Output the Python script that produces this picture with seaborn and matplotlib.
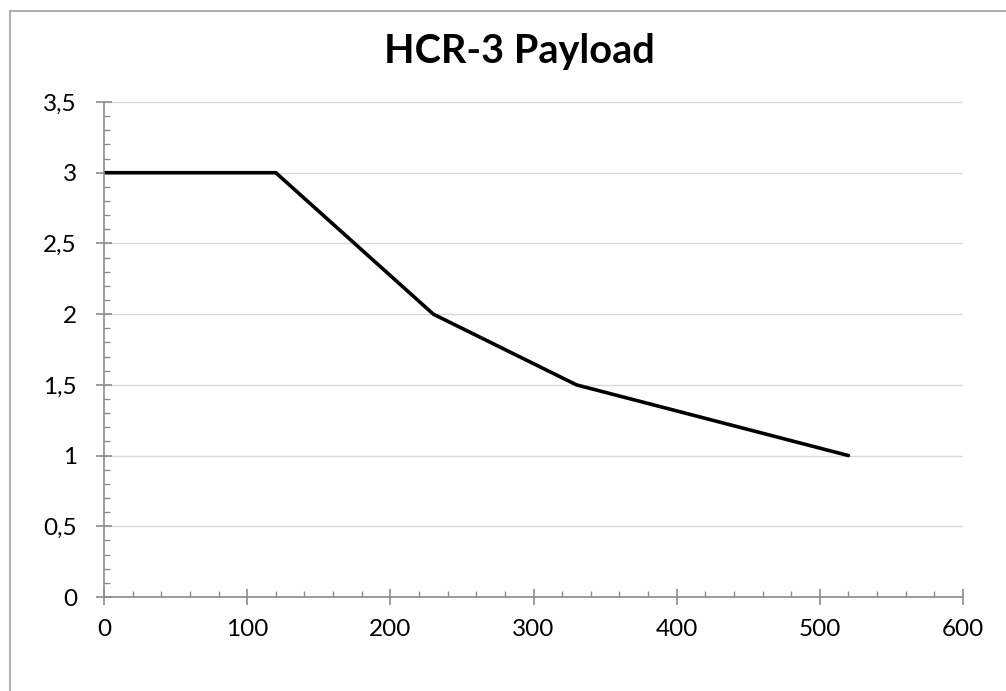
import matplotlib
matplotlib.use("Agg")
import matplotlib.pyplot as plt
from matplotlib.ticker import MultipleLocator
from matplotlib.lines import Line2D
import seaborn as sns
import pandas as pd

distance = [0, 120, 230, 330, 520]
payload = [3, 3, 2, 1.5, 1]
x_ticks = [0, 100, 200, 300, 400, 500, 600]
y_ticks = [0, 0.5, 1, 1.5, 2, 2.5, 3, 3.5]
y_labels = ["0", "0,5", "1", "1,5", "2", "2,5", "3", "3,5"]
title = "HCR-3 Payload"

sns.set_style("white")
plt.rcParams['font.family'] = ['Lato', 'DejaVu Sans']

fig = plt.figure(figsize=(10.06, 6.91), dpi=100)
ax = fig.add_axes([104/1006, 1-597/691, (963-104)/1006, (597-102)/691])

df = pd.DataFrame({"distance": distance, "payload": payload})
sns.lineplot(data=df, x="distance", y="payload", ax=ax, color="black", linewidth=2.6)

ax.set_xlim(0, 600)
ax.set_ylim(0, 3.5)
ax.set_xticks(x_ticks)
ax.set_xticklabels([str(v) for v in x_ticks])
ax.set_yticks(y_ticks)
ax.set_yticklabels(y_labels)
ax.xaxis.set_minor_locator(MultipleLocator(20))
ax.yaxis.set_minor_locator(MultipleLocator(0.1))
ax.set_xlabel("")
ax.set_ylabel("")

for s in ["top", "right"]:
    ax.spines[s].set_visible(False)
for s in ["left", "bottom"]:
    ax.spines[s].set_color("#8c8c8c")
    ax.spines[s].set_linewidth(1.2)

ax.grid(axis="y", color="#d9d9d9", linewidth=1.0)
ax.grid(axis="x", visible=False)
ax.set_axisbelow(True)

ax.tick_params(axis="x", which="both", bottom=True)
ax.tick_params(axis="y", which="both", left=True)
ax.tick_params(axis="both", which="major", direction="inout", length=11, width=1.2,
               color="#8c8c8c", labelsize=17.5, labelcolor="black")
ax.tick_params(axis="both", which="minor", direction="in", length=4.5, width=1.0,
               color="#8c8c8c")
ax.tick_params(axis="x", which="major", pad=10)
ax.tick_params(axis="y", which="major", pad=14)

fig.text((377+662)/2/1006, 1-52/691, title, ha="center", va="center",
         fontsize=28.5, fontweight="bold", color="black")

# chart area border
fig.add_artist(Line2D([10/1006, 10/1006], [0, 1-11/691], transform=fig.transFigure,
                      color="#a0a0a0", linewidth=1.2))
fig.add_artist(Line2D([10/1006, 1], [1-11/691, 1-11/691], transform=fig.transFigure,
                      color="#a0a0a0", linewidth=1.2))

fig.savefig("out.png", dpi=100)
